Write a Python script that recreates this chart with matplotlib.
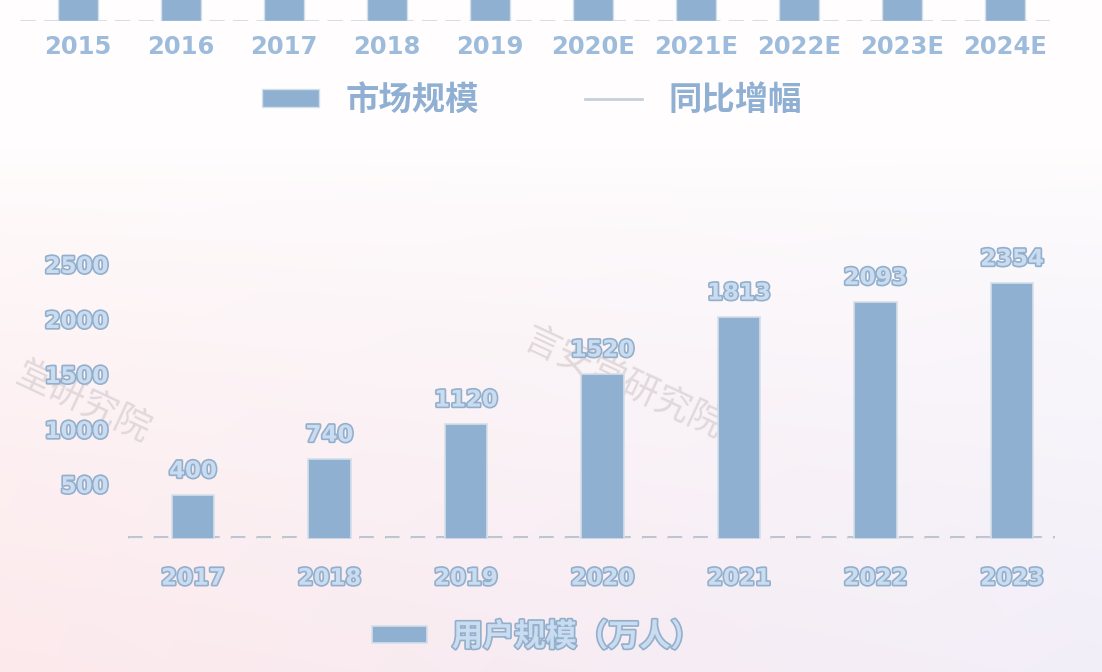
import numpy as np
import matplotlib
matplotlib.use("Agg")
import matplotlib.pyplot as plt
import matplotlib.patheffects as pe
from matplotlib.patches import Patch
from matplotlib.lines import Line2D

plt.rcParams["font.family"] = ["DejaVu Sans", "Noto Sans CJK SC"]
plt.rcParams["lines.scale_dashes"] = False

# upper (cropped) chart: only the bar bottoms and labels are visible
top_years = ["2015", "2016", "2017", "2018", "2019",
             "2020E", "2021E", "2022E", "2023E", "2024E"]
top_values = [100, 100, 100, 100, 100, 100, 100, 100, 100, 100]

# lower chart: user scale
years = ["2017", "2018", "2019", "2020", "2021", "2022", "2023"]
bar_heights = [400, 727, 1045, 1500, 2018, 2155, 2327]
value_labels = ["400", "740", "1120", "1520", "1813", "2093", "2354"]
yticks = [500, 1000, 1500, 2000, 2500]

BAR = "#8fb0d1"
BAR_EDGE = "#d5dfea"
TXT_FILL = "#c9dcf0"
TXT_EDGE = "#93afcc"
outline = [pe.withStroke(linewidth=2.4, foreground=TXT_EDGE)]

W, H = 1102, 672
fig = plt.figure(figsize=(W / 100, H / 100), dpi=100)

# soft background gradient: white at the top, pink (left) / lavender (right) below
bg = fig.add_axes([0, 0, 1, 1], zorder=-10)
yy, xx = np.mgrid[0:1:H * 1j, 0:1:W * 1j]
white = np.array([1.0, 0.995, 0.995])
pink = np.array([0.99, 0.915, 0.925])
lav = np.array([0.95, 0.935, 0.975])
low = pink[None, None, :] * (1 - xx[..., None]) + lav[None, None, :] * xx[..., None]
t = np.clip((yy - 0.22) / 0.78, 0, 1)[..., None] ** 0.7
img = white * (1 - t) + low * t
bg.imshow(img, aspect="auto", extent=[0, 1, 0, 1], origin="upper", zorder=0)
bg.set_xlim(0, 1)
bg.set_ylim(0, 1)
bg.set_axis_off()

# watermarks
wm = dict(color="#e0d8db", fontsize=26, rotation=-25, ha="center", va="center",
          family=["Noto Sans CJK SC"], zorder=1)
bg.text(0.565, 0.43, "言安堂研究院", transform=bg.transAxes, **wm)
bg.text(0.075, 0.40, "堂研究院", transform=bg.transAxes, **wm)

# ---- upper chart (cut off by the frame) ----
axt = fig.add_axes([20 / W, (H - 21) / H, 1030 / W, 300 / H])
x_top = np.arange(len(top_years))
axt.bar(x_top, top_values, width=0.39, color=BAR, edgecolor=BAR_EDGE,
        linewidth=1.0, zorder=3)
axt.axhline(0, color="#dadde4", lw=2.2, dashes=(11, 6), zorder=2)
axt.set_xlim(-0.563, 9.437)
axt.set_ylim(0, 100)
axt.set_xticks(x_top)
axt.set_xticklabels(top_years, fontsize=17.5, fontweight="bold", color="#9dbbdb")
axt.tick_params(axis="x", length=0, pad=10)
axt.set_yticks([])
for s in axt.spines.values():
    s.set_visible(False)
axt.patch.set_alpha(0)

top_handles = [Patch(facecolor=BAR, edgecolor=BAR_EDGE, label="市场规模"),
               Line2D([0], [0], color="#c6d0dc", lw=2, label="同比增幅")]
leg_t = fig.legend(handles=top_handles, loc="center", ncol=2,
                   bbox_to_anchor=(532 / W, 1 - 100 / H), frameon=False,
                   prop={"family": ["Noto Sans CJK SC"], "size": 24,
                         "weight": "bold"},
                   handlelength=1.7, handleheight=0.45, handletextpad=0.8,
                   columnspacing=3.2)
for txt in leg_t.get_texts():
    txt.set_color("#8fb0d3")

# ---- lower chart ----
ax = fig.add_axes([128 / W, 133 / H, 927 / W, 297 / H])
x = np.arange(len(years))
bars = ax.bar(x, bar_heights, width=0.31, color=BAR, edgecolor=BAR_EDGE,
              linewidth=1.2, zorder=3, label="用户规模（万人）")
ax.axhline(0, color="#b9c0cc", lw=4.2, dashes=(10.5, 8), zorder=2)
ax.axhline(0, color="#eeeef2", lw=2.4, dashes=(10.5, 8), zorder=2)
for xi, h, lab in zip(x, bar_heights, value_labels):
    ax.annotate(lab, (xi, h), xytext=(0, 9), textcoords="offset points",
                ha="center", va="bottom", fontsize=16.5, fontweight="bold",
                color=TXT_FILL, path_effects=outline, zorder=4)

ax.set_xlim(-0.476, 6.315)
ax.set_ylim(0, 2700)
ax.set_xticks(x)
ax.set_xticklabels(years)
ax.set_yticks(yticks)
ax.set_yticklabels([str(v) for v in yticks])
ax.tick_params(axis="x", length=0, pad=20)
ax.tick_params(axis="y", length=0, pad=14)
for lab in ax.get_xticklabels() + ax.get_yticklabels():
    lab.set_fontsize(16.5)
    lab.set_fontweight("bold")
    lab.set_color(TXT_FILL)
    lab.set_path_effects(outline)
for s in ax.spines.values():
    s.set_visible(False)
ax.patch.set_alpha(0)

leg = ax.legend(loc="center", bbox_to_anchor=(537 / W, 1 - 637 / H),
                bbox_transform=fig.transFigure, frameon=False,
                prop={"family": ["Noto Sans CJK SC"], "size": 22.5,
                      "weight": "bold"},
                handlelength=1.75, handleheight=0.45, handletextpad=0.8)
for txt in leg.get_texts():
    txt.set_color(TXT_FILL)
    txt.set_path_effects(outline)

fig.savefig("out.png", dpi=100)
